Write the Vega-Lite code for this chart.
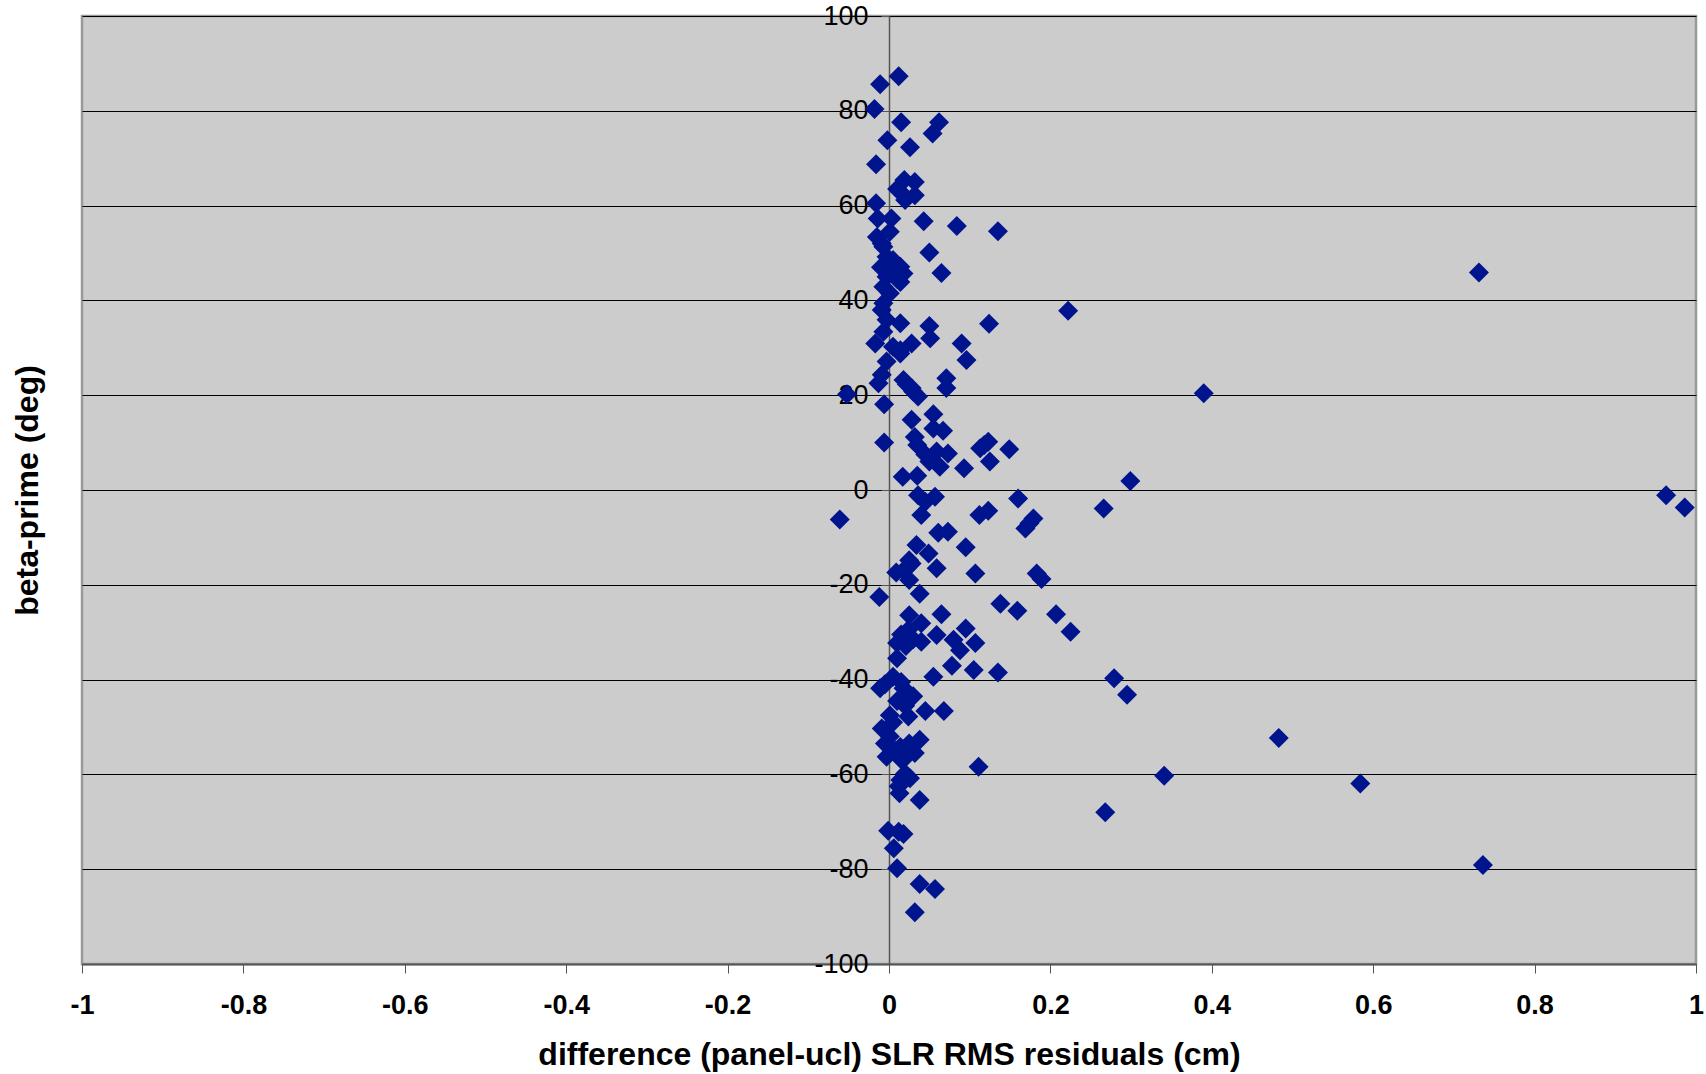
{
  "$schema": "https://vega.github.io/schema/vega-lite/v6.json",
  "width": 1614,
  "height": 948,
  "autosize": {"type": "none"},
  "padding": {"left": 82, "top": 16, "right": 10, "bottom": 110},
  "background": "white",
  "config": {
    "view": {"fill": "#CCCCCC", "stroke": "#999999", "strokeWidth": 2.5},
    "font": "Liberation Sans"
  },
  "data": {"values": [
    {"d": 0.012, "b": 87.3}, {"d": -0.011, "b": 85.6}, {"d": -0.018, "b": 80.4}, {"d": 0.015, "b": 77.6},
    {"d": 0.062, "b": 77.6}, {"d": 0.054, "b": 75.2}, {"d": -0.002, "b": 73.8}, {"d": 0.026, "b": 72.3},
    {"d": -0.016, "b": 68.7}, {"d": 0.019, "b": 65.4}, {"d": 0.032, "b": 65.0}, {"d": 0.014, "b": 62.9},
    {"d": 0.032, "b": 62.2}, {"d": 0.020, "b": 61.2}, {"d": 0.010, "b": 63.5}, {"d": -0.016, "b": 60.5},
    {"d": -0.014, "b": 57.3}, {"d": 0.003, "b": 57.3}, {"d": 0.043, "b": 56.7}, {"d": 0.084, "b": 55.7},
    {"d": 0.135, "b": 54.6}, {"d": -0.015, "b": 53.4}, {"d": 0.001, "b": 54.5}, {"d": -0.009, "b": 52.0},
    {"d": 0.050, "b": 50.1}, {"d": -0.007, "b": 51.3}, {"d": -0.003, "b": 49.2}, {"d": 0.005, "b": 48.5},
    {"d": 0.014, "b": 47.1}, {"d": 0.018, "b": 45.7}, {"d": -0.003, "b": 45.0}, {"d": 0.065, "b": 45.8},
    {"d": 0.014, "b": 43.9}, {"d": -0.007, "b": 42.9}, {"d": 0.001, "b": 41.5}, {"d": -0.007, "b": 39.4},
    {"d": 0.005, "b": 46.5}, {"d": 0.010, "b": 44.5}, {"d": -0.010, "b": 47.0},
    {"d": 0.731, "b": 45.9}, {"d": 0.222, "b": 37.8}, {"d": -0.009, "b": 38.0}, {"d": -0.003, "b": 35.9},
    {"d": 0.014, "b": 35.2}, {"d": -0.007, "b": 33.4}, {"d": 0.050, "b": 34.6}, {"d": 0.124, "b": 35.1},
    {"d": 0.051, "b": 32.0}, {"d": -0.017, "b": 30.9}, {"d": 0.005, "b": 30.2}, {"d": 0.028, "b": 30.9},
    {"d": 0.090, "b": 30.9}, {"d": 0.014, "b": 28.8}, {"d": -0.003, "b": 27.1}, {"d": 0.096, "b": 27.4},
    {"d": 0.014, "b": 29.5}, {"d": -0.009, "b": 24.3}, {"d": -0.013, "b": 22.5}, {"d": 0.018, "b": 23.2},
    {"d": 0.028, "b": 21.5}, {"d": 0.036, "b": 19.7}, {"d": 0.071, "b": 23.6}, {"d": 0.071, "b": 21.5},
    {"d": 0.022, "b": 22.3}, {"d": 0.030, "b": 20.8},
    {"d": -0.052, "b": 20.2}, {"d": 0.390, "b": 20.4}, {"d": -0.006, "b": 18.1},
    {"d": 0.028, "b": 14.8}, {"d": 0.055, "b": 16.0}, {"d": 0.067, "b": 12.5}, {"d": 0.055, "b": 13.0},
    {"d": 0.032, "b": 11.2}, {"d": 0.035, "b": 9.5}, {"d": -0.006, "b": 10.0}, {"d": 0.059, "b": 8.1},
    {"d": 0.073, "b": 7.7}, {"d": 0.063, "b": 4.9}, {"d": 0.093, "b": 4.6}, {"d": 0.113, "b": 8.8},
    {"d": 0.123, "b": 10.2}, {"d": 0.118, "b": 9.5}, {"d": 0.125, "b": 6.0}, {"d": 0.149, "b": 8.6},
    {"d": 0.045, "b": 7.5}, {"d": 0.050, "b": 6.0},
    {"d": 0.017, "b": 2.8}, {"d": 0.035, "b": 3.0}, {"d": 0.299, "b": 1.9}, {"d": 0.036, "b": -1.1},
    {"d": 0.057, "b": -1.4}, {"d": 0.045, "b": -2.5}, {"d": 0.040, "b": -5.3}, {"d": 0.160, "b": -1.8},
    {"d": -0.061, "b": -6.2}, {"d": 0.112, "b": -5.3}, {"d": 0.123, "b": -4.4}, {"d": 0.266, "b": -3.9},
    {"d": 0.179, "b": -6.0}, {"d": 0.169, "b": -8.1}, {"d": 0.174, "b": -7.0}, {"d": 0.061, "b": -9.0},
    {"d": 0.073, "b": -8.8}, {"d": 0.095, "b": -12.1}, {"d": 0.034, "b": -11.6}, {"d": 0.049, "b": -13.4},
    {"d": 0.025, "b": -14.8}, {"d": 0.022, "b": -16.5}, {"d": 0.059, "b": -16.5}, {"d": 0.009, "b": -17.4},
    {"d": 0.107, "b": -17.6}, {"d": 0.183, "b": -17.6}, {"d": 0.189, "b": -18.8}, {"d": 0.025, "b": -19.0},
    {"d": 0.028, "b": -15.5}, {"d": 0.018, "b": -17.0},
    {"d": 0.963, "b": -1.1}, {"d": 0.986, "b": -3.7},
    {"d": -0.012, "b": -22.6}, {"d": 0.038, "b": -21.9}, {"d": 0.138, "b": -24.0}, {"d": 0.159, "b": -25.5},
    {"d": 0.207, "b": -26.2}, {"d": 0.225, "b": -29.9}, {"d": 0.065, "b": -26.2}, {"d": 0.025, "b": -26.4},
    {"d": 0.040, "b": -28.1}, {"d": 0.024, "b": -29.5}, {"d": 0.059, "b": -30.6}, {"d": 0.095, "b": -29.2},
    {"d": 0.080, "b": -31.6}, {"d": 0.107, "b": -32.3}, {"d": 0.088, "b": -33.8}, {"d": 0.040, "b": -32.0},
    {"d": 0.010, "b": -32.3}, {"d": 0.021, "b": -32.9}, {"d": 0.010, "b": -35.5}, {"d": 0.078, "b": -37.1},
    {"d": 0.015, "b": -30.5}, {"d": 0.030, "b": -31.5},
    {"d": 0.105, "b": -38.0}, {"d": 0.135, "b": -38.5}, {"d": 0.055, "b": -39.4}, {"d": 0.279, "b": -39.7},
    {"d": 0.295, "b": -43.2}, {"d": 0.005, "b": -39.4}, {"d": -0.011, "b": -41.8}, {"d": 0.018, "b": -41.8},
    {"d": 0.024, "b": -43.9}, {"d": 0.045, "b": -46.6}, {"d": 0.068, "b": -46.6}, {"d": 0.001, "b": -47.5},
    {"d": 0.024, "b": -47.8}, {"d": -0.009, "b": -50.3}, {"d": 0.001, "b": -52.0}, {"d": 0.038, "b": -52.7},
    {"d": 0.014, "b": -54.2}, {"d": 0.032, "b": -55.5}, {"d": -0.003, "b": -56.3}, {"d": 0.016, "b": -57.0},
    {"d": 0.010, "b": -44.5}, {"d": 0.020, "b": -45.5}, {"d": 0.005, "b": -49.0}, {"d": 0.025, "b": -53.5},
    {"d": 0.008, "b": -55.0}, {"d": 0.020, "b": -56.5}, {"d": -0.005, "b": -53.5}, {"d": 0.030, "b": -43.5},
    {"d": 0.015, "b": -40.5}, {"d": -0.005, "b": -41.0},
    {"d": 0.111, "b": -58.4}, {"d": 0.483, "b": -52.3}, {"d": 0.014, "b": -61.2}, {"d": 0.026, "b": -60.8},
    {"d": 0.012, "b": -62.5}, {"d": 0.020, "b": -59.8},
    {"d": 0.013, "b": -64.0}, {"d": 0.038, "b": -65.4}, {"d": 0.268, "b": -68.0}, {"d": 0.341, "b": -60.3},
    {"d": 0.584, "b": -61.9}, {"d": -0.001, "b": -71.9}, {"d": 0.018, "b": -72.6}, {"d": 0.012, "b": -72.1},
    {"d": 0.006, "b": -75.6}, {"d": 0.010, "b": -79.8}, {"d": 0.038, "b": -83.1}, {"d": 0.057, "b": -84.2},
    {"d": 0.032, "b": -89.1}, {"d": 0.736, "b": -79.1}
  ]},
  "mark": {"type": "point", "shape": "diamond", "filled": true, "size": 400, "color": "#00148E", "opacity": 1, "strokeWidth": 0},
  "encoding": {
    "x": {
      "field": "d", "type": "quantitative",
      "scale": {"domain": [-1, 1], "nice": false, "zero": false},
      "axis": {
        "title": "difference (panel-ucl) SLR RMS residuals (cm)",
        "values": [-1, -0.8, -0.6, -0.4, -0.2, 0, 0.2, 0.4, 0.6, 0.8, 1],
        "labelExpr": "datum.value < 0 ? '-' + format(-datum.value, '~g') : format(datum.value, '~g')",
        "grid": false,
        "domainColor": "#555555", "domainWidth": 2,
        "tickColor": "#555555", "tickSize": 9, "tickWidth": 1,
        "labelFont": "Liberation Sans", "labelFontSize": 27, "labelFontWeight": "bold", "labelColor": "black",
        "labelPadding": 19, "labelFlush": false, "labelOverlap": false,
        "titleFont": "Liberation Sans", "titleFontSize": 32, "titleFontWeight": "bold", "titleColor": "black",
        "titleBaseline": "alphabetic", "titleAnchor": "middle", "titleY": 100
      }
    },
    "y": {
      "field": "b", "type": "quantitative",
      "scale": {"domain": [-100, 100], "nice": false, "zero": false},
      "axis": {
        "title": "beta-prime (deg)",
        "values": [-100, -80, -60, -40, -20, 0, 20, 40, 60, 80, 100],
        "labelExpr": "datum.value < 0 ? '-' + format(-datum.value, '~g') : format(datum.value, '~g')",
        "offset": -807,
        "grid": true, "gridColor": "black", "gridWidth": 1.2, "gridOpacity": 1,
        "domainColor": "#555555", "domainWidth": 1.5,
        "tickColor": "#555555", "tickSize": 8, "tickWidth": 1,
        "labelFont": "Liberation Sans", "labelFontSize": 27, "labelColor": "black",
        "labelPadding": 13, "labelFlush": false, "labelOverlap": false,
        "titleFont": "Liberation Sans", "titleFontSize": 32, "titleFontWeight": "bold", "titleColor": "black",
        "titleAngle": -90, "titleX": -862, "titleY": 474, "titleBaseline": "middle", "titleAlign": "center"
      }
    }
  }
}
